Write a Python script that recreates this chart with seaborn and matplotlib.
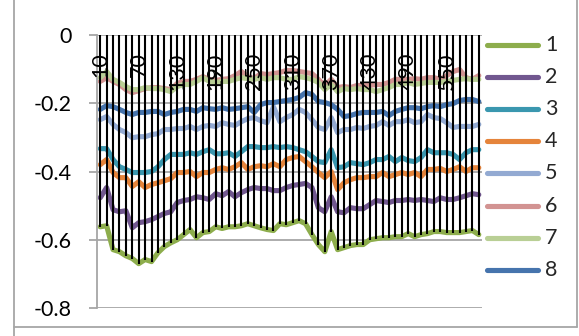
import numpy as np
import pandas as pd
import matplotlib
matplotlib.use("Agg")
import matplotlib.pyplot as plt
import seaborn as sns
from matplotlib.lines import Line2D

# Categories along the x axis (every 6th one is labelled)
categories = list(range(10, 610, 10))
label_every = 6

s1 = [-0.562, -0.559, -0.629, -0.635, -0.647, -0.655, -0.670, -0.658, -0.664, -0.638,
      -0.620, -0.609, -0.600, -0.585, -0.570, -0.594, -0.579, -0.576, -0.562, -0.567,
      -0.562, -0.562, -0.559, -0.553, -0.559, -0.565, -0.570, -0.573, -0.553, -0.556,
      -0.550, -0.544, -0.553, -0.585, -0.614, -0.635, -0.576, -0.629, -0.623, -0.617,
      -0.614, -0.614, -0.600, -0.597, -0.594, -0.594, -0.591, -0.591, -0.582, -0.591,
      -0.585, -0.582, -0.576, -0.576, -0.579, -0.579, -0.579, -0.576, -0.573, -0.585]
s2 = [-0.477, -0.447, -0.512, -0.518, -0.515, -0.565, -0.550, -0.547, -0.541, -0.532,
      -0.523, -0.518, -0.491, -0.485, -0.482, -0.474, -0.477, -0.482, -0.465, -0.471,
      -0.459, -0.474, -0.462, -0.453, -0.447, -0.450, -0.450, -0.456, -0.456, -0.447,
      -0.441, -0.438, -0.435, -0.447, -0.506, -0.518, -0.474, -0.518, -0.521, -0.506,
      -0.509, -0.509, -0.497, -0.485, -0.488, -0.491, -0.485, -0.485, -0.482, -0.485,
      -0.482, -0.485, -0.488, -0.477, -0.482, -0.482, -0.477, -0.471, -0.465, -0.468]
s3 = [-0.333, -0.333, -0.365, -0.386, -0.394, -0.403, -0.403, -0.403, -0.400, -0.386,
      -0.365, -0.350, -0.350, -0.350, -0.345, -0.350, -0.342, -0.336, -0.348, -0.348,
      -0.345, -0.356, -0.342, -0.327, -0.327, -0.330, -0.330, -0.327, -0.330, -0.327,
      -0.330, -0.336, -0.342, -0.356, -0.371, -0.374, -0.336, -0.389, -0.386, -0.374,
      -0.377, -0.380, -0.374, -0.365, -0.365, -0.356, -0.371, -0.359, -0.368, -0.371,
      -0.359, -0.336, -0.345, -0.345, -0.345, -0.350, -0.365, -0.345, -0.336, -0.336]
s4 = [-0.380, -0.365, -0.403, -0.418, -0.418, -0.444, -0.430, -0.447, -0.438, -0.433,
      -0.427, -0.421, -0.403, -0.403, -0.400, -0.415, -0.403, -0.403, -0.394, -0.389,
      -0.394, -0.386, -0.374, -0.394, -0.386, -0.383, -0.386, -0.377, -0.386, -0.365,
      -0.359, -0.356, -0.371, -0.386, -0.403, -0.418, -0.400, -0.453, -0.433, -0.424,
      -0.418, -0.418, -0.415, -0.415, -0.403, -0.415, -0.409, -0.403, -0.409, -0.403,
      -0.415, -0.394, -0.394, -0.391, -0.400, -0.394, -0.386, -0.400, -0.389, -0.389]
s5 = [-0.248, -0.239, -0.262, -0.277, -0.286, -0.301, -0.298, -0.298, -0.292, -0.289,
      -0.277, -0.277, -0.274, -0.274, -0.268, -0.277, -0.268, -0.265, -0.268, -0.257,
      -0.262, -0.265, -0.254, -0.245, -0.242, -0.251, -0.257, -0.210, -0.254, -0.242,
      -0.233, -0.218, -0.227, -0.248, -0.271, -0.277, -0.242, -0.286, -0.277, -0.277,
      -0.271, -0.274, -0.268, -0.265, -0.254, -0.265, -0.254, -0.254, -0.248, -0.257,
      -0.254, -0.233, -0.242, -0.245, -0.257, -0.271, -0.268, -0.268, -0.268, -0.262]
s6 = [-0.136, -0.125, -0.136, -0.145, -0.160, -0.169, -0.163, -0.157, -0.154, -0.154,
      -0.157, -0.160, -0.142, -0.136, -0.136, -0.130, -0.122, -0.130, -0.133, -0.130,
      -0.128, -0.119, -0.107, -0.122, -0.128, -0.113, -0.116, -0.113, -0.110, -0.104,
      -0.104, -0.107, -0.110, -0.113, -0.130, -0.148, -0.130, -0.154, -0.151, -0.154,
      -0.148, -0.148, -0.148, -0.145, -0.145, -0.139, -0.130, -0.130, -0.130, -0.128,
      -0.130, -0.125, -0.125, -0.130, -0.119, -0.107, -0.101, -0.125, -0.130, -0.119]
s7 = [-0.125, -0.107, -0.130, -0.139, -0.151, -0.160, -0.160, -0.154, -0.157, -0.157,
      -0.160, -0.166, -0.151, -0.145, -0.145, -0.136, -0.125, -0.136, -0.139, -0.136,
      -0.136, -0.130, -0.125, -0.128, -0.130, -0.125, -0.130, -0.125, -0.125, -0.130,
      -0.130, -0.122, -0.125, -0.130, -0.139, -0.160, -0.145, -0.166, -0.157, -0.160,
      -0.157, -0.160, -0.160, -0.166, -0.160, -0.154, -0.145, -0.145, -0.139, -0.145,
      -0.142, -0.139, -0.139, -0.139, -0.136, -0.133, -0.130, -0.128, -0.130, -0.130]
s8 = [-0.218, -0.207, -0.210, -0.218, -0.227, -0.233, -0.227, -0.227, -0.224, -0.224,
      -0.233, -0.227, -0.224, -0.218, -0.218, -0.224, -0.213, -0.216, -0.218, -0.213,
      -0.218, -0.216, -0.213, -0.210, -0.227, -0.204, -0.198, -0.198, -0.195, -0.192,
      -0.189, -0.183, -0.169, -0.174, -0.195, -0.198, -0.204, -0.218, -0.239, -0.236,
      -0.230, -0.227, -0.227, -0.227, -0.224, -0.236, -0.224, -0.218, -0.213, -0.213,
      -0.216, -0.210, -0.207, -0.210, -0.204, -0.201, -0.192, -0.189, -0.189, -0.195]

series_names = ["1", "2", "3", "4", "5", "6", "7", "8"]
series_values = [s1, s2, s3, s4, s5, s6, s7, s8]
colors = ["#8DAD4C", "#71578F", "#3A97AF", "#E5843B",
          "#93AAD2", "#D29392", "#B9CF95", "#4674AD"]

y_ticks = [0, -0.2, -0.4, -0.6, -0.8]
y_labels = ["0", "-0.2", "-0.4", "-0.6", "-0.8"]

sns.set_theme(style="white")
plt.rcParams["font.family"] = ["Lato", "DejaVu Sans"]

W, H = 579, 336
FS = 15.5
LW = 3.7
fig = plt.figure(figsize=(W / 100, H / 100), dpi=100)
ax = fig.add_axes([97 / W, 1 - 308 / H, (482 - 97) / W, (308 - 35) / H])

pos = np.arange(len(categories))
df = pd.DataFrame({
    "pos": np.tile(pos, len(series_names)),
    "value": np.concatenate(series_values),
    "series": np.repeat(series_names, len(categories)),
})

sns.lineplot(data=df, x="pos", y="value", hue="series", hue_order=series_names,
             palette=colors, linewidth=LW, estimator=None, sort=False,
             legend=False, ax=ax)
for ln in ax.get_lines():
    ln.set_solid_joinstyle("round")
    ln.set_solid_capstyle("round")

# drop lines from the axis at 0 down to the lowest series
low = np.min(np.vstack(series_values), axis=0)
ax.vlines(pos, low, 0, colors="black", linewidth=1.5, zorder=5)

ax.set_xlim(-0.5, len(categories) - 0.5)
ax.set_ylim(-0.8, 0)
ax.set_yticks(y_ticks)
ax.set_yticklabels(y_labels, fontsize=FS, color="black")
ax.set_xticks([])
ax.set_xlabel("")
ax.set_ylabel("")
ax.yaxis.grid(True, color="#A6A6A6", linewidth=1.3)
ax.set_axisbelow(True)
for side in ["top", "right", "bottom"]:
    ax.spines[side].set_visible(False)
ax.spines["left"].set_color("#A6A6A6")
ax.spines["left"].set_linewidth(1.3)
ax.tick_params(axis="y", direction="out", length=6, width=1.3,
               color="#A6A6A6", pad=12, left=True)

# category labels, rotated, hanging below the axis at 0
for i in range(0, len(categories), label_every):
    ax.annotate(str(categories[i]), xy=(i, 0), xycoords="data",
                xytext=(0, -12.5), textcoords="offset points",
                rotation=90, ha="center", va="top", fontsize=FS,
                color="black", zorder=6)

# legend
for k, (name, col) in enumerate(zip(series_names, colors)):
    yy = 1 - (45 + 32.1 * k) / H
    fig.add_artist(Line2D([487 / W, 538 / W], [yy, yy], color=col,
                          linewidth=LW, solid_capstyle="round"))
    fig.text(545 / W, yy, name, fontsize=FS, va="center", ha="left")

# chart area border
border = dict(color="#A6A6A6", linewidth=1.3)
fig.add_artist(Line2D([14 / W, 14 / W], [0, 1], **border))
fig.add_artist(Line2D([14 / W, 577 / W], [1 - 327 / H, 1 - 327 / H], **border))
fig.add_artist(Line2D([577 / W, 577 / W], [1 - 327 / H, 1], **border))

fig.savefig("out.png", dpi=100)
